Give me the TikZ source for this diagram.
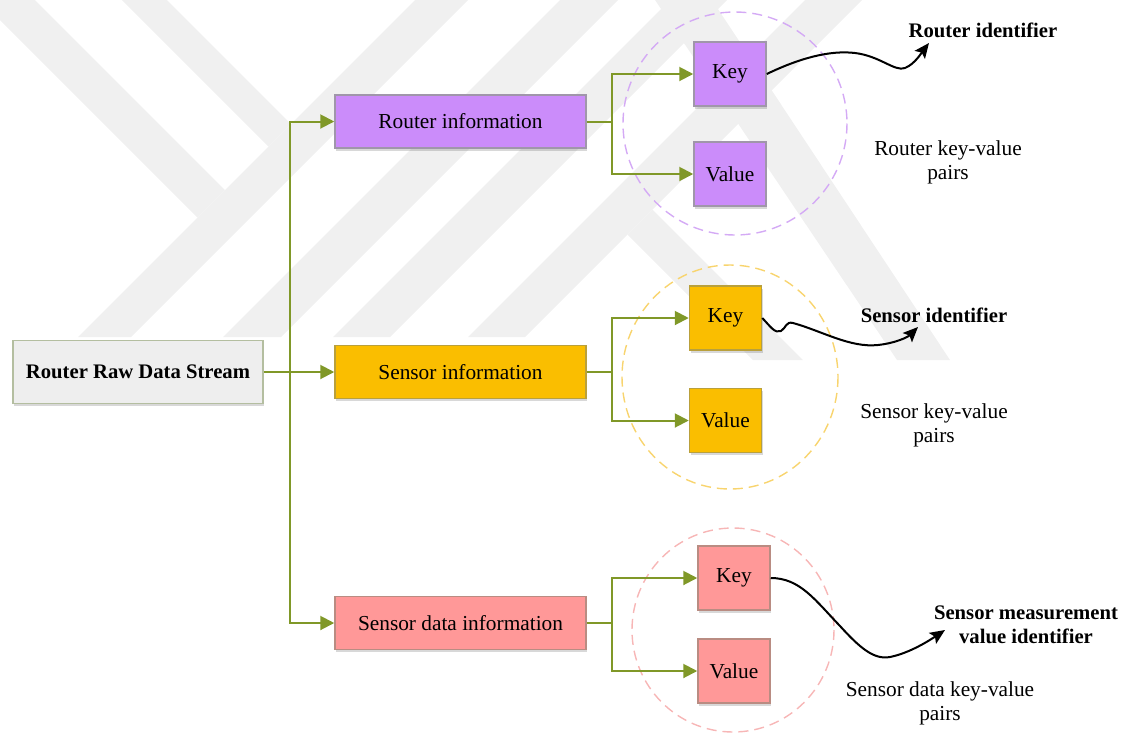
\documentclass[tikz,border=0pt]{standalone}
\usepackage{fontspec}
\setmainfont{Liberation Serif}
\usetikzlibrary{arrows.meta,shadows}

\definecolor{markgray}{RGB}{240,240,240}
\definecolor{flowgreen}{RGB}{128,152,40}
\definecolor{rootfill}{RGB}{238,238,238}
\definecolor{rootline}{RGB}{180,190,160}
\definecolor{routfill}{RGB}{203,140,250}
\definecolor{routline}{RGB}{160,150,170}
\definecolor{sensfill}{RGB}{250,190,0}
\definecolor{sensline}{RGB}{185,160,60}
\definecolor{datafill}{RGB}{255,152,152}
\definecolor{dataline}{RGB}{185,140,130}
\definecolor{routring}{RGB}{212,170,245}
\definecolor{sensring}{RGB}{248,212,110}
\definecolor{dataring}{RGB}{247,182,182}

% one unit of the drawing is 0.75pt
\tikzset{
  boxbase/.style={rectangle, line width=1.125pt, inner sep=0pt,
    drop shadow={shadow xshift=1.1pt, shadow yshift=-2.2pt, opacity=.22, fill=black!70}},
  rootbox/.style={boxbase, draw=rootline, fill=rootfill,
    minimum width=187.5pt, minimum height=47.25pt,
    font=\bfseries\fontsize{15.5}{18}\selectfont},
  infobox/.style={boxbase, minimum width=188.25pt, minimum height=39.75pt,
    font=\fontsize{16}{18}\selectfont},
  kvbox/.style={boxbase, minimum width=54pt, minimum height=48pt,
    font=\fontsize{16}{18}\selectfont},
  routstyle/.style={draw=routline, fill=routfill},
  sensstyle/.style={draw=sensline, fill=sensfill},
  datastyle/.style={draw=dataline, fill=datafill},
  ring/.style={line width=1.05pt, dash pattern=on 7.5pt off 4.5pt},
  flowarrow/.style={draw=flowgreen, line width=1.5pt,
    -{Triangle[length=10.5pt, width=10.5pt]}},
  idarrow/.style={draw=black, line width=1.5pt,
    -{Stealth[length=11.25pt, width=9.75pt, inset=2.25pt]}},
  idlabel/.style={align=center, inner sep=0pt,
    font=\bfseries\fontsize{15.5}{18}\selectfont},
  pairlabel/.style={align=center, inner sep=0pt,
    font=\fontsize{16}{18}\selectfont}
}

\begin{document}
\begin{tikzpicture}[x=0.75pt, y=-0.75pt]
\useasboundingbox (0,0) rectangle (1133,733);

% faint logo in the background
\begin{scope}[fill=markgray]
  % left chevron and the short bar beside it
  \fill (-20,0) -- (35,0) -- (225,190) -- (197.5,217.5) -- cycle;
  \fill (122,0) -- (167,0) -- (291,124) -- (268.5,146.5) -- cycle;
  \fill (415,0) -- (468,0) -- (131,337) -- (78,337) -- cycle;
  % rising stripes
  \fill (560,0) -- (618,0) -- (281,337) -- (223,337) -- cycle;
  \fill (670,0) -- (727,0) -- (390,337) -- (333,337) -- cycle;
  \fill (805,0) -- (862,0) -- (525,337) -- (468,337) -- cycle;
  % falling stripes on the right
  \fill (627.5,234.5) -- (652.5,209.5) -- (803,360) -- (753,360) -- cycle;
  \fill (655,0) -- (712,0) -- (950,360) -- (897,360) -- cycle;
\end{scope}

% dashed rings round the key-value pairs
\draw[ring, draw=routring] (735,123.5) ellipse [x radius=112, y radius=111.5];
\draw[ring, draw=sensring] (730,377) ellipse [x radius=108, y radius=112];
\draw[ring, draw=dataring] (733,630) ellipse [x radius=101, y radius=102];

% boxes
\node[rootbox] (root) at (138,372) {Router Raw Data Stream};

\node[infobox, routstyle] (rinfo)  at (460.5,121.5) {Router information};
\node[infobox, sensstyle] (sinfo)  at (460.5,372)   {Sensor information};
\node[infobox, datastyle] (sdinfo) at (460.5,623)   {Sensor data information};

\node[kvbox, routstyle] (rkey)  at (730,74)    {Key};
\node[kvbox, routstyle] (rval)  at (730,174)   {Value};
\node[kvbox, sensstyle] (skey)  at (725.5,318) {Key};
\node[kvbox, sensstyle] (sval)  at (725.5,420.5) {Value};
\node[kvbox, datastyle] (sdkey) at (734,578)   {Key};
\node[kvbox, datastyle] (sdval) at (734,671)   {Value};

% labels
\node[idlabel] (rid)  at (983,30)   {Router identifier};
\node[idlabel] (sid)  at (934,315)  {Sensor identifier};
\node[idlabel] (sdid) at (1026,625) {Sensor measurement\\value identifier};

\node[pairlabel] (rpairs)  at (948,162) {Router key-value\\pairs};
\node[pairlabel] (spairs)  at (934,425) {Sensor key-value\\pairs};
\node[pairlabel] (sdpairs) at (940,703) {Sensor data key-value\\pairs};

% tree connectors
\coordinate (trunk) at (290,372);
\draw[flowarrow] (root.east) -- (trunk) |- (rinfo.west);
\draw[flowarrow] (root.east) -- (sinfo.west);
\draw[flowarrow] (root.east) -- (trunk) |- (sdinfo.west);

\coordinate (rfork)  at (612,121.5);
\coordinate (sfork)  at (612,372);
\coordinate (sdfork) at (612,623);
\draw[flowarrow] (rinfo.east) -- (rfork) |- (rkey.west);
\draw[flowarrow] (rinfo.east) -- (rfork) |- (rval.west);
\draw[flowarrow] (sinfo.east) -- (sfork) |- (skey.west);
\draw[flowarrow] (sinfo.east) -- (sfork) |- (sval.west);
\draw[flowarrow] (sdinfo.east) -- (sdfork) |- (sdkey.west);
\draw[flowarrow] (sdinfo.east) -- (sdfork) |- (sdval.west);

% identifier arrows
\coordinate (ridtip)  at (929,43);
\coordinate (sidtip)  at (918,327);
\coordinate (sdidtip) at (945,630);
\draw[idarrow] (rkey.east) .. controls (800,58) and (830,50) .. (855,53)
  .. controls (880,56) and (895,72) .. (905,68)
  .. controls (915,64) and (922,52) .. (ridtip);
\draw[idarrow] (skey.east) .. controls (770,326) and (775,334) .. (781,331)
  .. controls (786,328) and (786,321) .. (793,323)
  .. controls (822,331) and (850,348) .. (878,345)
  .. controls (896,343) and (908,337) .. (sidtip);
\draw[idarrow] (sdkey.east) .. controls (800,578) and (815,600) .. (840,626)
  .. controls (860,648) and (874,660) .. (890,657)
  .. controls (910,653) and (930,640) .. (sdidtip);
\end{tikzpicture}
\end{document}
